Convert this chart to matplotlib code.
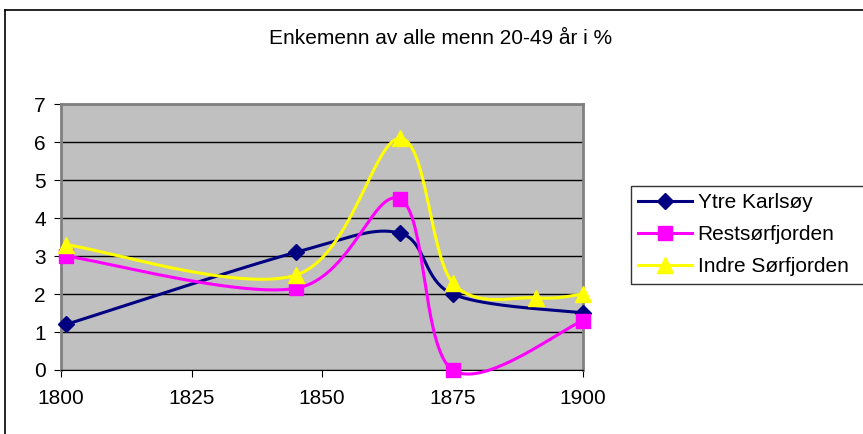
import numpy as np
import matplotlib
matplotlib.use("Agg")
import matplotlib.pyplot as plt
from matplotlib.lines import Line2D

plt.rcParams['font.family'] = ['Liberation Sans', 'DejaVu Sans']

title = "Enkemenn av alle menn 20-49 år i %"

ytre_x = [1801, 1845, 1865, 1875, 1900]
ytre_y = [1.2, 3.1, 3.6, 2.0, 1.5]

rest_x = [1801, 1845, 1865, 1875, 1900]
rest_y = [3.0, 2.15, 4.5, 0.0, 1.3]

indre_x = [1801, 1845, 1865, 1875, 1891, 1900]
indre_y = [3.3, 2.5, 6.1, 2.3, 1.9, 2.0]


def smooth(xs, ys, n=40):
    # Excel-like smoothed line (Catmull-Rom as cubic bezier)
    p = np.column_stack([xs, ys]).astype(float)
    pts = []
    for i in range(len(p) - 1):
        p0 = p[i - 1] if i > 0 else p[i]
        p1, p2 = p[i], p[i + 1]
        p3 = p[i + 2] if i + 2 < len(p) else p[i + 1]
        c1 = p1 + (p2 - p0) / 6
        c2 = p2 - (p3 - p1) / 6
        t = np.linspace(0, 1, n)[:, None]
        seg = ((1 - t) ** 3) * p1 + 3 * ((1 - t) ** 2) * t * c1 + 3 * (1 - t) * t ** 2 * c2 + t ** 3 * p2
        pts.append(seg if i == 0 else seg[1:])
    s = np.vstack(pts)
    return s[:, 0], s[:, 1]


fig = plt.figure(figsize=(8.63, 4.34), dpi=100)
# outer chart border (only top and left are inside the picture)
fig.lines.append(Line2D([0.006, 1.0], [0.977, 0.977], transform=fig.transFigure, color='black', linewidth=1.2))
fig.lines.append(Line2D([0.006, 0.006], [0.0, 0.977], transform=fig.transFigure, color='black', linewidth=1.2))

ax = fig.add_axes([0.0707, 0.1475, 0.605, 0.6125])
ax.set_facecolor('#C0C0C0')

series = [
    ("Ytre Karlsøy", ytre_x, ytre_y, '#000080', 'D', 8),
    ("Restsørfjorden", rest_x, rest_y, '#FF00FF', 's', 10),
    ("Indre Sørfjorden", indre_x, indre_y, '#FFFF00', '^', 11),
]
for name, xs, ys, c, m, ms in series:
    sx, sy = smooth(xs, ys)
    ax.plot(sx, sy, color=c, linewidth=2.2, zorder=3, clip_on=False)
    ax.plot(xs, ys, linestyle='none', marker=m, color=c, markersize=ms, zorder=4, clip_on=False)
    ax.plot([], [], color=c, linewidth=2.2, marker=m, markersize=ms, label=name)

ax.set_xlim(1800, 1900)
ax.set_ylim(0, 7)
ax.set_xticks(range(1800, 1901, 25))
ax.set_yticks(range(0, 8))
ax.yaxis.grid(True, color='black', linewidth=1)
ax.set_axisbelow(True)
ax.tick_params(axis='both', labelsize=15, direction='out', length=5, color='black')
ax.tick_params(axis='x', pad=9)
ax.tick_params(axis='y', pad=6)
for s in ['top', 'right', 'left']:
    ax.spines[s].set_color('#808080')
    ax.spines[s].set_linewidth(2)
ax.spines['bottom'].set_color('black')

fig.text(0.51, 0.912, title, ha='center', va='center', fontsize=15)

leg = fig.legend(loc='upper left', bbox_to_anchor=(0.731, 0.571, 0.3, 0.0), mode='expand',
                 fontsize=15, frameon=True, fancybox=False, edgecolor='black', borderpad=0.35,
                 borderaxespad=0, handlelength=2.6, handletextpad=0.25, labelspacing=0.62)
leg.get_frame().set_linewidth(1)

fig.savefig("out.png", dpi=100)
